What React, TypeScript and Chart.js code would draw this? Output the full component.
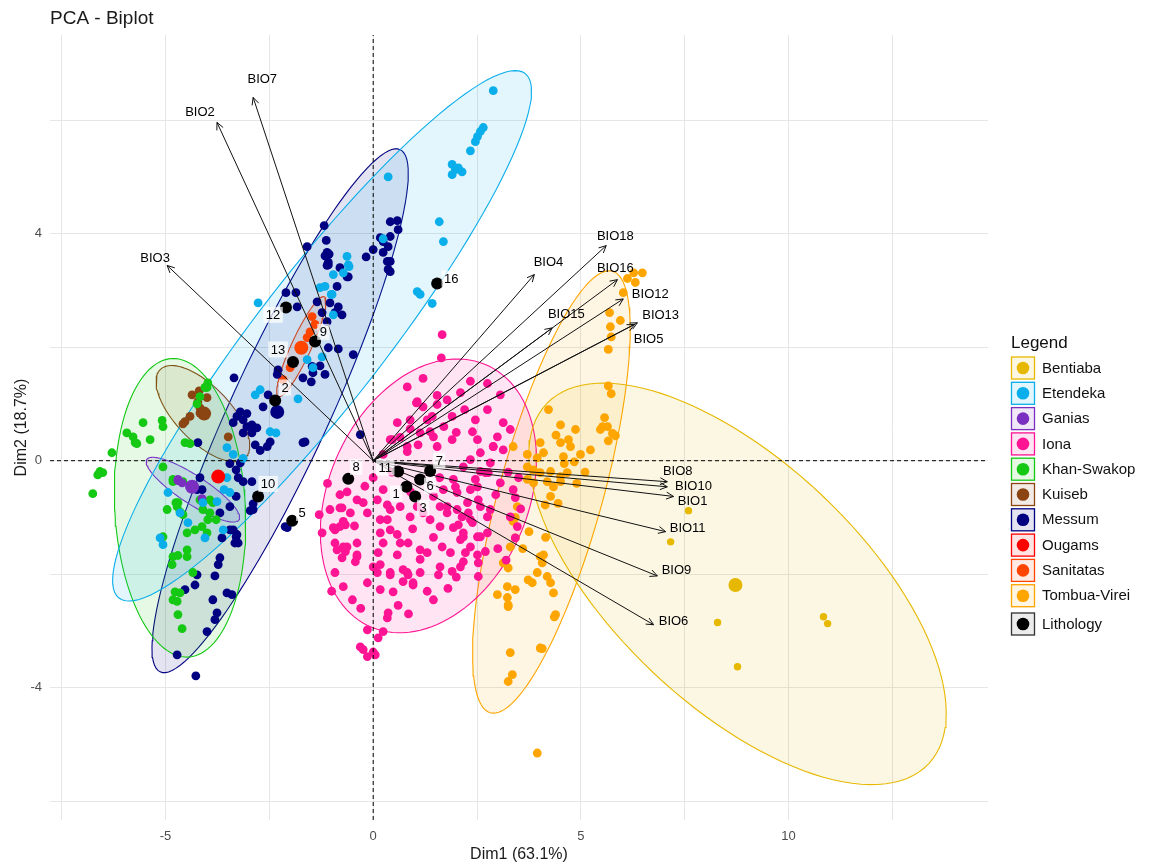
import React, { useEffect, useRef } from 'react';
import { Chart, registerables } from 'chart.js';

Chart.register(...registerables);

// ---------- DATA ----------
const groups = ['Bentiaba', 'Etendeka', 'Ganias', 'Iona', 'Khan-Swakop', 'Kuiseb', 'Messum', 'Ougams', 'Sanitatas', 'Tombua-Virei'];

const bentiabaPts: [number, number][] = [[7.59, -0.88], [7.16, -1.43], [8.29, -2.85], [10.84, -2.75], [10.94, -2.87], [8.77, -3.63]];

const etendekaPts: [number, number][] = [
  [2.89, 6.52], [2.65, 5.87], [2.58, 5.80], [2.51, 5.71], [2.46, 5.62], [2.34, 5.46], [1.90, 5.22], [1.98, 5.13], [2.14, 5.09], [1.90, 5.04],
  [2.05, 5.16], [1.59, 4.21], [1.69, 3.86], [1.06, 2.98], [1.13, 2.93], [1.42, 2.77], [0.36, 5.00], [0.24, 3.91], [-0.63, 3.60], [-0.58, 3.42],
  [-0.96, 3.28], [-0.72, 3.31], [-1.16, 3.07], [-1.28, 3.05], [-1.01, 2.93], [-2.77, 2.78], [-0.60, 3.45], [-0.99, 2.93], [-2.84, 1.16], [-1.81, 1.09],
  [-2.72, 1.25], [-1.23, 1.83], [-1.59, 1.78], [-1.45, 1.64], [-2.48, 0.51], [-3.52, 0.23], [-3.37, 0.11], [-3.13, 0.04], [-3.52, -0.30], [-3.59, -0.51],
  [-3.45, -0.56], [-3.76, -0.72], [-4.10, -0.74], [-4.94, -0.56], [-5.13, -1.36], [-5.06, -1.48], [-0.96, 2.57], [-2.34, 0.49], [-3.61, -1.22], [-4.05, -1.36],
  [-4.65, -0.92], [-4.46, -1.09]
];

const ganiasPts: [number, number][] = [[-4.70, -0.35], [-4.60, -0.39], [-4.12, -0.67], [-4.36, -0.46], [-4.70, -0.33]];

const ionaPts: [number, number][] = [
  [1.04, 1.02], [1.54, 0.99], [0.89, 0.72], [1.30, 0.72], [1.37, 0.51], [1.45, 0.42], [0.82, 0.25], [0.46, 0.37], [0.24, 0.11], [1.08, 0.28],
  [2.46, 0.72], [2.39, 0.51], [2.75, 0.90], [3.13, 0.67], [2.99, 0.42], [2.89, 0.25], [3.30, 0.55], [3.13, 0.19], [2.17, -0.11], [2.58, -0.19],
  [2.77, -0.21], [2.46, -0.33], [1.93, -0.33], [2.02, -0.56], [2.34, -0.51], [1.45, -0.63], [1.61, -0.81], [1.06, -0.81], [0.65, -0.81], [0.24, -0.51],
  [0.10, -0.69], [-0.24, -0.74], [-0.39, -0.69], [-0.80, -0.60], [-0.75, -0.83], [-0.14, -0.92], [0.17, -1.04], [0.41, -0.86], [0.89, -0.99], [1.20, -0.92],
  [1.78, -0.92], [2.02, -0.86], [2.29, -0.92], [2.53, -0.69], [2.75, -0.99], [2.34, -1.04], [-0.67, -1.13], [-0.92, -1.45], [-0.67, -1.60], [-0.39, -1.66],
  [0.17, -1.27], [0.41, -1.22], [0.58, -1.30], [0.24, -1.45], [0.65, -1.45], [0.84, -1.45], [1.13, -1.57], [1.30, -1.62], [1.13, -1.74], [1.61, -1.16],
  [2.05, -1.13], [2.17, -1.34], [2.34, -1.52], [2.51, -1.34], [0.58, -1.66], [0.00, -1.87], [0.17, -1.83], [0.41, -1.97], [0.82, -1.97], [0.72, -2.13],
  [0.96, -2.19], [0.48, -2.31], [-0.43, -1.78], [-0.63, -1.52], [-0.92, -1.97], [-0.72, -2.22], [1.86, -1.62], [2.22, -1.62], [2.17, -1.78], [1.57, -2.01],
  [-0.92, -1.22], [2.82, -0.04], [2.34, 0.02], [2.70, -0.21], [2.51, -0.46], [3.06, -0.39], [3.37, -0.51], [3.42, -0.65], [2.27, -0.74], [2.58, -0.81],
  [2.82, -0.86], [2.14, -0.99], [2.39, -1.09], [1.93, -1.18], [2.17, -1.27], [2.58, -1.34], [2.75, -1.27], [3.30, -0.99], [3.47, -1.16], [3.42, -1.36],
  [2.10, -1.39], [2.51, -1.66], [2.10, -1.87], [2.53, -1.80], [2.53, -2.04], [1.13, -1.97], [0.84, -2.01], [0.96, -2.15], [0.72, -1.92], [1.66, -1.52],
  [1.61, -1.87], [1.37, -1.04], [1.78, -0.81], [1.69, -0.51], [1.98, -0.46], [2.58, 0.14], [2.89, 0.25], [2.51, 0.37], [1.54, 0.25], [1.90, 0.37],
  [-0.14, -2.98], [0.24, -3.01], [0.34, -2.77], [0.36, -2.68], [-0.31, -3.28], [-0.24, -3.33], [-0.14, -3.45], [0.00, -3.37], [0.05, -3.42], [0.12, -3.12],
  [0.34, -0.78], [-0.80, -0.83], [-0.72, -1.07], [-0.80, -1.16], [-0.72, -1.52], [-0.39, -1.69], [-0.75, -1.71], [0.12, -1.62], [0.10, -1.97], [0.34, -1.04],
  [-0.14, -2.15], [0.17, -2.27], [0.41, -2.01], [1.66, 2.22], [1.64, 1.81], [0.82, 1.30], [1.06, 1.04], [1.54, 1.15], [1.78, 1.07], [1.90, 0.78],
  [1.42, 0.78], [1.20, 0.95], [1.13, 0.49], [0.82, 0.16], [0.65, 0.41], [0.41, 0.37], [0.58, 0.67], [0.89, 0.56], [-0.63, -0.55], [-0.55, -0.92],
  [-1.04, -0.86], [-0.96, -1.18], [-0.39, -1.45], [-0.87, -1.57], [-1.23, -1.27], [2.34, 1.40], [2.75, 1.36], [3.06, 1.16], [2.10, 1.20], [1.20, 1.45],
  [1.30, -2.30], [1.80, -2.25], [2.00, -2.05], [1.45, -2.45], [0.60, -2.55], [0.85, -2.70], [-0.50, -2.45], [-0.30, -2.60], [-1.00, -2.30], [3.00, -1.55],
  [3.20, -1.75], [2.95, -0.60], [3.25, -0.20], [3.50, -0.30], [3.55, -0.85], [0.00, -0.30], [-0.20, -0.45], [0.45, -0.20], [1.70, 0.60], [2.20, 0.90],
  [2.00, 0.50], [1.60, -0.30], [0.90, -0.55], [1.90, -1.95], [2.70, -1.60], [-1.10, -0.40], [-1.30, -0.95], [-0.45, -1.15], [0.95, -1.20], [1.45, -1.35]
];

const khanPts: [number, number][] = [
  [-3.98, 1.37], [-4.00, 1.29], [-4.17, 1.13], [-5.54, 0.67], [-5.08, 0.71], [-5.06, 0.60], [-5.93, 0.49], [-5.78, 0.42], [-5.69, 0.30], [-5.37, 0.37],
  [-6.29, 0.14], [-4.53, 0.32], [-4.41, 0.30], [-6.58, -0.19], [-6.51, -0.21], [-6.63, -0.25], [-6.75, -0.58], [-5.06, -0.11], [-4.82, -0.37], [-4.58, -0.37],
  [-4.70, -0.74], [-4.72, -0.81], [-4.65, -0.90], [-4.96, -0.86], [-4.58, -0.95], [-4.17, -0.69], [-3.93, -0.69], [-3.86, -0.74], [-4.10, -0.86], [-3.98, -1.04],
  [-3.78, -1.04], [-5.06, -1.34], [-4.48, -1.27], [-4.12, -1.16], [-4.29, -1.22], [-4.48, -1.57], [-4.82, -1.69], [-4.70, -1.67], [-4.48, -1.69], [-4.84, -1.83],
  [-4.34, -1.97], [-4.77, -2.31], [-4.65, -2.33], [-4.82, -2.45], [-4.72, -2.48], [-4.70, -2.71], [-4.60, -2.96], [-4.05, 1.29], [-4.24, 1.00], [-4.82, -0.33],
  [-4.75, -0.74], [-3.93, -0.92], [-4.00, -1.27], [-5.73, 0.32]
];

const kuisebPts: [number, number][] = [[-4.19, 1.23], [-4.36, 1.16], [-4.00, 1.11], [-4.22, 1.04], [-4.17, 0.93], [-4.41, 0.78], [-4.53, 0.69], [-4.58, 0.65], [-3.49, 0.42], [-4.17, 0.84]];

const messumPts: [number, number][] = [
  [-1.18, 4.14], [-1.13, 3.88], [-1.59, 3.77], [-1.16, 3.61], [-1.06, 3.64], [-1.11, 3.44], [-0.60, 3.24], [-0.87, 3.07], [-0.17, 3.59], [0.00, 3.72],
  [0.17, 3.93], [0.24, 3.86], [0.41, 4.21], [0.58, 4.23], [0.60, 4.07], [0.36, 3.77], [0.34, 3.51], [0.41, 3.33], [-2.10, 2.96], [-1.86, 2.96],
  [-1.11, 3.67], [-1.08, 3.50], [0.24, 3.67], [0.41, 3.95], [-1.08, 3.45], [-0.80, 3.40], [-0.63, 3.24], [0.36, 3.37], [0.41, 3.51], [-1.83, 2.71],
  [-1.35, 2.80], [-1.04, 2.78], [-0.84, 2.71], [-0.75, 2.57], [-0.92, 2.61], [-1.23, 2.61], [-1.11, 2.45], [-1.08, 1.99], [-0.84, 1.97], [-0.48, 1.87],
  [-1.47, 1.66], [-1.28, 1.67], [-1.16, 1.52], [-1.45, 1.55], [-1.69, 1.46], [-1.49, 1.39], [-2.31, 1.52], [-2.29, 1.60], [-2.53, 1.16], [-2.65, 0.95],
  [-3.35, 1.46], [-3.04, 0.83], [-3.28, 0.78], [-3.13, 0.72], [-2.92, 0.63], [-2.80, 0.58], [-2.92, 0.49], [-3.13, 0.49], [-2.84, 0.28], [-2.55, 0.25],
  [-2.48, 0.33], [-1.69, 0.32], [-0.31, 0.46], [-4.22, 0.32], [-3.30, -0.16], [-3.20, -0.04], [-3.45, -0.05], [-3.25, -0.30], [-3.45, -0.81], [-3.30, -0.63],
  [-2.96, -0.88], [-2.89, -0.76], [-2.12, -1.16], [-3.45, -1.22], [-3.30, -1.34], [-3.25, -1.45], [-3.64, -1.36], [-4.12, -0.51], [-3.69, -0.92], [-3.37, -1.22],
  [-3.28, -1.30], [-3.33, -1.45], [-3.69, -1.71], [-3.73, -1.83], [-4.24, -2.01], [-3.81, -2.03], [-4.29, -2.19], [-3.52, -2.33], [-3.40, -2.36], [-4.53, -2.27],
  [-1.64, 0.33], [-2.72, 0.18], [-2.92, -0.37], [-3.13, -0.37], [-2.89, -0.86], [-2.07, -1.18], [-3.37, 0.67], [-3.04, 0.60], [-2.89, 0.56], [-3.20, 0.86],
  [-4.24, -0.51], [-4.17, -0.30], [-3.86, -2.45], [-3.76, -2.68], [-3.81, -2.80], [-4.00, -3.01], [-4.72, -3.42], [-4.27, -3.79]
];

const ougamsPts: [number, number][] = [[-3.73, -0.28]];

const sanitatasPts: [number, number][] = [[-1.52, 2.27], [-1.40, 2.40], [-1.59, 2.17], [-1.93, 1.73], [-2.00, 1.64], [-2.17, 1.43], [-1.47, 2.54]];

const tombuaPts: [number, number][] = [
  [6.12, 3.21], [6.27, 3.31], [6.48, 3.31], [6.31, 3.14], [6.02, 2.96], [5.69, 2.61], [5.95, 2.47], [5.71, 2.36], [5.73, 2.18], [5.66, 1.96],
  [5.66, 1.32], [5.73, 1.18], [5.57, 0.76], [5.52, 0.60], [5.47, 0.55], [5.64, 0.60], [5.76, 0.48], [5.83, 0.44], [5.66, 0.35], [3.37, 0.25],
  [3.71, 0.11], [4.10, 0.14], [4.02, 0.32], [4.51, 0.32], [4.75, 0.25], [4.58, 0.07], [3.71, -0.11], [3.86, -0.16], [4.02, -0.21], [4.27, -0.19],
  [4.51, -0.28], [4.67, -0.21], [3.71, -0.33], [3.86, -0.39], [4.19, -0.37], [4.34, -0.46], [4.51, -0.37], [4.27, -0.63], [4.14, -0.78], [3.47, -0.81],
  [3.42, -1.00], [3.37, -1.07], [3.42, -1.36], [3.30, -1.52], [3.13, -1.80], [3.25, -1.89], [2.99, -2.36], [3.23, -2.22], [3.42, -2.27], [3.23, -2.41],
  [3.25, -2.54], [3.73, -2.10], [3.83, -2.15], [3.95, -1.97], [4.02, -1.69], [4.10, -1.66], [4.07, -1.80], [4.19, -2.04], [4.27, -2.15], [4.34, -2.33],
  [4.39, -2.71], [4.02, -3.30], [3.30, -3.38], [3.25, -2.57], [4.36, -2.75], [4.07, -3.31], [3.35, -3.77], [3.25, -3.89], [3.95, -5.15], [4.22, 0.90],
  [4.51, 0.63], [4.87, 0.55], [4.70, 0.37], [4.99, 0.11], [5.23, 0.19], [4.84, -0.02], [4.40, 0.45], [4.60, -0.05], [4.90, -0.40], [5.10, -0.20],
  [3.95, 0.05], [4.45, -0.75], [3.60, -1.55], [3.75, -1.25], [4.15, -1.35]
];

// group mean points (large markers)
const meanGroups = ['Bentiaba', 'Ganias', 'Kuiseb', 'Ougams', 'Sanitatas', 'Messum'];
const meanX = [8.72, -4.36, -4.07, -3.73, -1.73, -2.31];
const meanY = [-2.19, -0.46, 0.83, -0.28, 1.99, 0.86];

// concentration ellipses: centre, and two conjugate semi-axes (data units)
const ellipseGroups = ['Bentiaba', 'Etendeka', 'Ganias', 'Iona', 'Khan-Swakop', 'Kuiseb', 'Messum', 'Sanitatas', 'Tombua-Virei'];
const ellipseCx = [8.77, -1.23, -4.34, 1.33, -4.65, -4.10, -2.24, -1.73, 4.29];
const ellipseCy = [-2.17, 2.20, -0.51, -0.62, -0.83, 0.83, 0.88, 2.01, -0.55];
const ellipseUx = [4.60, 4.89, 1.11, 0.60, -0.19, 1.02, 2.89, 0.55, 1.47];
const ellipseUy = [-3.17, 4.62, -0.53, 2.41, 2.63, -0.78, 4.60, 0.88, 3.89];
const ellipseVx = [2.02, 1.23, 0.18, 2.53, 1.57, 0.48, 1.08, 0.22, 1.20];
const ellipseVy = [1.57, -0.70, 0.21, 0.09, 0.05, 0.33, -0.37, -0.07, -0.25];

// variable arrows
const varNames = ['BIO7', 'BIO2', 'BIO3', 'BIO4', 'BIO18', 'BIO16', 'BIO12', 'BIO13', 'BIO5', 'BIO15', 'BIO8', 'BIO10', 'BIO1', 'BIO11', 'BIO9', 'BIO6'];
const varX = [-2.89, -3.76, -4.96, 3.88, 5.61, 5.88, 6.02, 6.36, 6.29, 4.31, 7.08, 7.08, 7.23, 7.04, 6.84, 6.75];
const varY = [6.40, 5.96, 3.44, 3.28, 3.79, 3.19, 2.85, 2.43, 2.40, 2.34, -0.37, -0.46, -0.63, -1.25, -2.03, -2.89];
const varLabelX = [-2.67, -4.17, -5.25, 4.22, 5.83, 5.83, 6.67, 6.92, 6.63, 4.65, 7.33, 7.71, 7.69, 7.57, 7.30, 7.23];
const varLabelY = [6.71, 6.13, 3.56, 3.49, 3.96, 3.38, 2.93, 2.56, 2.13, 2.57, -0.18, -0.46, -0.72, -1.20, -1.94, -2.84];

// supplementary individuals (lithology)
const lithNames = ['1', '2', '3', '5', '6', '7', '8', '9', '10', '11', '12', '13', '16'];
const lithX = [0.80, -2.36, 1.01, -1.95, 1.13, 1.37, -0.60, -1.40, -2.77, 0.60, -2.10, -1.93, 1.54];
const lithY = [-0.46, 1.06, -0.63, -1.06, -0.33, -0.18, -0.32, 2.10, -0.63, -0.19, 2.70, 1.74, 3.12];
const lithLabelX = [0.55, -2.12, 1.20, -1.71, 1.37, 1.59, -0.41, -1.20, -2.53, 0.29, -2.41, -2.29, 1.88];
const lithLabelY = [-0.58, 1.29, -0.83, -0.92, -0.44, 0.00, -0.11, 2.27, -0.41, -0.12, 2.57, 1.96, 3.21];

const xMin = -7.78, xMax = 14.8, yMin = -6.33, yMax = 7.5;

// ---------- STYLE ----------
const groupColors: Record<string, string> = {
  'Bentiaba': '#E7B800', 'Etendeka': '#0AAEEA', 'Ganias': '#7A2FC0', 'Iona': '#FF1493', 'Khan-Swakop': '#14C814',
  'Kuiseb': '#8B4513', 'Messum': '#000080', 'Ougams': '#FF0000', 'Sanitatas': '#FF4500', 'Tombua-Virei': '#FFA500'
};
const groupPoints: Record<string, [number, number][]> = {
  'Bentiaba': bentiabaPts, 'Etendeka': etendekaPts, 'Ganias': ganiasPts, 'Iona': ionaPts, 'Khan-Swakop': khanPts,
  'Kuiseb': kuisebPts, 'Messum': messumPts, 'Ougams': ougamsPts, 'Sanitatas': sanitatasPts, 'Tombua-Virei': tombuaPts
};
const FONT = "'Liberation Sans', Arial, sans-serif";

function hexA(hex: string, a: number) {
  const n = parseInt(hex.slice(1), 16);
  return `rgba(${(n >> 16) & 255},${(n >> 8) & 255},${n & 255},${a})`;
}

function ellipsePolygon(i: number) {
  const pts: { x: number; y: number }[] = [];
  const N = 120;
  for (let k = 0; k <= N; k++) {
    const t = (2 * Math.PI * k) / N;
    pts.push({
      x: ellipseCx[i] + ellipseUx[i] * Math.cos(t) + ellipseVx[i] * Math.sin(t),
      y: ellipseCy[i] + ellipseUy[i] * Math.cos(t) + ellipseVy[i] * Math.sin(t)
    });
  }
  return pts;
}

export default function App() {
  const ref = useRef<HTMLCanvasElement>(null);

  useEffect(() => {
    if (!ref.current) return;
    Chart.defaults.font.family = FONT;

    const datasets: any[] = [];

    ellipseGroups.forEach((g, i) => {
      datasets.push({
        label: 'ell-' + g,
        data: ellipsePolygon(i),
        showLine: true,
        fill: 'shape',
        backgroundColor: hexA(groupColors[g], 0.11),
        borderColor: groupColors[g],
        borderWidth: 1.1,
        pointRadius: 0,
        pointHoverRadius: 0,
        tension: 0,
        order: 6
      });
    });

    groups.forEach((g) => {
      datasets.push({
        label: g,
        data: groupPoints[g].map(([x, y]) => ({ x, y })),
        backgroundColor: groupColors[g],
        borderWidth: 0,
        pointRadius: g === 'Bentiaba' ? 3.7 : 4.4,
        pointHoverRadius: 4,
        order: 5
      });
    });

    datasets.push({
      label: 'means',
      data: meanGroups.map((g, i) => ({ x: meanX[i], y: meanY[i] })),
      backgroundColor: meanGroups.map((g) => groupColors[g]),
      borderWidth: 0,
      pointRadius: 7,
      order: 4
    });

    datasets.push({
      label: 'h0', data: [{ x: xMin, y: 0 }, { x: xMax, y: 0 }], showLine: true, borderColor: '#000', borderWidth: 1,
      borderDash: [4, 3], pointRadius: 0, fill: false, order: 3
    });
    datasets.push({
      label: 'v0', data: [{ x: 0, y: yMin }, { x: 0, y: yMax }], showLine: true, borderColor: '#000', borderWidth: 1,
      borderDash: [4, 3], pointRadius: 0, fill: false, order: 3
    });

    const arrowIdx: number[] = [];
    varNames.forEach((v, i) => {
      arrowIdx.push(datasets.length);
      datasets.push({
        label: v, data: [{ x: 0, y: 0 }, { x: varX[i], y: varY[i] }], showLine: true, borderColor: '#111',
        borderWidth: 1, pointRadius: 0, fill: false, order: 2
      });
    });

    datasets.push({
      label: 'Lithology',
      data: lithNames.map((n, i) => ({ x: lithX[i], y: lithY[i] })),
      backgroundColor: '#000',
      borderWidth: 0,
      pointRadius: 6,
      order: 1
    });

    const decor = {
      id: 'decor',
      afterDatasetsDraw(chart: any) {
        const { ctx, scales } = chart;
        const sx = scales.x, sy = scales.y;
        ctx.save();
        arrowIdx.forEach((di) => {
          const meta = chart.getDatasetMeta(di);
          const p0 = meta.data[0], p1 = meta.data[1];
          const ang = Math.atan2(p1.y - p0.y, p1.x - p0.x);
          const L = 8, a = Math.PI / 7;
          ctx.beginPath();
          ctx.moveTo(p1.x - L * Math.cos(ang - a), p1.y - L * Math.sin(ang - a));
          ctx.lineTo(p1.x, p1.y);
          ctx.lineTo(p1.x - L * Math.cos(ang + a), p1.y - L * Math.sin(ang + a));
          ctx.strokeStyle = '#111';
          ctx.lineWidth = 1;
          ctx.stroke();
        });
        ctx.font = `13px ${FONT}`;
        ctx.fillStyle = '#000';
        ctx.textAlign = 'center';
        ctx.textBaseline = 'middle';
        varNames.forEach((v, i) => {
          ctx.fillText(v, sx.getPixelForValue(varLabelX[i]), sy.getPixelForValue(varLabelY[i]));
        });
        ctx.font = `13px ${FONT}`;
        lithNames.forEach((n, i) => {
          const px = sx.getPixelForValue(lithLabelX[i]);
          const py = sy.getPixelForValue(lithLabelY[i]);
          const w = ctx.measureText(n).width;
          ctx.fillStyle = 'rgba(255,255,255,0.72)';
          ctx.fillRect(px - w / 2 - 2.5, py - 8, w + 5, 16);
          ctx.fillStyle = '#000';
          ctx.fillText(n, px, py + 0.5);
        });
        ctx.restore();
      },
      afterDraw(chart: any) {
        const { ctx, chartArea } = chart;
        ctx.save();
        ctx.font = `19px ${FONT}`;
        ctx.fillStyle = '#1a1a1a';
        ctx.textAlign = 'left';
        ctx.textBaseline = 'alphabetic';
        ctx.fillText('PCA - Biplot', chartArea.left, 24);

        const lx = chartArea.right + 23;
        ctx.font = `17px ${FONT}`;
        ctx.fillStyle = '#111';
        ctx.fillText('Legend', lx, 348);
        const items = [...groups, 'Lithology'];
        items.forEach((g, i) => {
          const cy = g === 'Lithology' ? 624 : 368 + i * 25.3;
          const col = g === 'Lithology' ? '#000' : groupColors[g];
          ctx.fillStyle = g === 'Lithology' ? '#ececec' : hexA(col, 0.11);
          ctx.fillRect(lx, cy - 11.5, 24, 23);
          ctx.strokeStyle = g === 'Lithology' ? '#333' : col;
          ctx.lineWidth = 1.3;
          ctx.strokeRect(lx + 0.5, cy - 11, 23, 22);
          ctx.beginPath();
          ctx.arc(lx + 12, cy, 6.3, 0, Math.PI * 2);
          ctx.fillStyle = col;
          ctx.fill();
          ctx.font = `15px ${FONT}`;
          ctx.fillStyle = '#111';
          ctx.textBaseline = 'middle';
          ctx.fillText(g, lx + 31, cy + 0.5);
          ctx.textBaseline = 'alphabetic';
        });
        ctx.restore();
      }
    };

    const chart = new Chart(ref.current, {
      type: 'scatter',
      data: { datasets },
      options: {
        animation: false,
        responsive: false,
        devicePixelRatio: 1,
        layout: { padding: { left: 0, right: 167, top: 35, bottom: 0 } },
        plugins: { legend: { display: false }, tooltip: { enabled: false }, title: { display: false } },
        events: [],
        scales: {
          x: {
            type: 'linear',
            min: xMin,
            max: xMax,
            border: { display: false },
            grid: { color: '#e6e6e6', lineWidth: 1, drawTicks: false },
            ticks: {
              stepSize: 2.5,
              includeBounds: false,
              autoSkip: false,
              maxRotation: 0,
              padding: 9,
              color: '#4d4d4d',
              font: { size: 13, family: FONT },
              callback: (v: any) => (Math.abs(v % 5) < 1e-9 ? String(v) : '')
            },
            title: { display: true, text: 'Dim1 (63.1%)', color: '#1a1a1a', font: { size: 16, family: FONT }, padding: { top: 0, bottom: 0 } },
            afterFit: (s: any) => { s.height = 44; }
          },
          y: {
            type: 'linear',
            min: yMin,
            max: yMax,
            border: { display: false },
            grid: { color: '#e6e6e6', lineWidth: 1, drawTicks: false },
            ticks: {
              stepSize: 2,
              includeBounds: false,
              autoSkip: false,
              padding: 8,
              color: '#4d4d4d',
              font: { size: 13, family: FONT },
              callback: (v: any) => (Math.abs(v % 4) < 1e-9 ? String(v) : '')
            },
            title: { display: true, text: 'Dim2 (18.7%)', color: '#1a1a1a', font: { size: 16, family: FONT }, padding: { top: 12, bottom: 0 } },
            afterFit: (s: any) => { s.width = 50; }
          }
        }
      } as any,
      plugins: [decor]
    });

    return () => chart.destroy();
  }, []);

  return (
    <div style={{ position: 'absolute', left: 0, top: 0, width: 1155, height: 864, background: '#fff' }}>
      <canvas ref={ref} width={1155} height={864} style={{ display: 'block' }} />
    </div>
  );
}
